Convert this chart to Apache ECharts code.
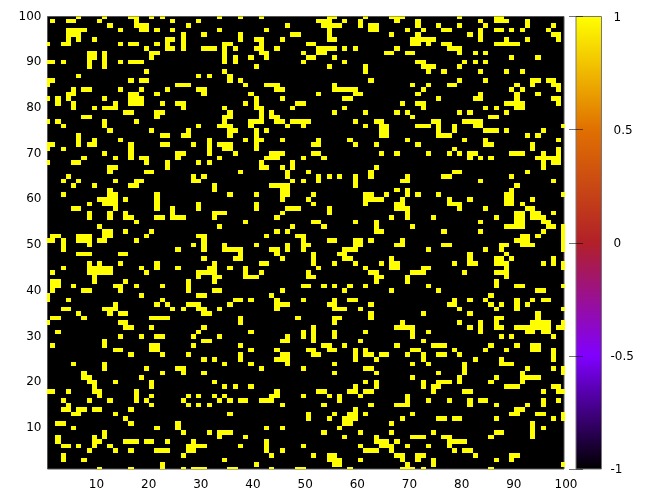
<!DOCTYPE html>
<html><head><meta charset="utf-8">
<style>html,body{margin:0;padding:0;background:#fff}#c{width:667px;height:500px}</style>
<script src="https://cdn.jsdelivr.net/npm/echarts@6/dist/echarts.min.js"></script>
</head><body><div id="c"></div>
<script>
// Each array lists, row by row from the highest y down, the x positions whose value is 1 (all others are -1).
const rows100to91 = [
[7,12,17,18,21,23,34,38,42,55,56,62,67,68,69,80,87,88],
[2,5,6,11,18,25,30,53,54,55,58,61,68,72,84,87,88,89,93],
[13,18,19,20,28,47,54,55,56,57,61,63,64,72,76,80,85,93,98],
[5,6,7,8,15,19,20,22,25,34,43,55,63,64,70,73,77,78,84,87,88,90,92,97],
[5,6,7,27,31,38,48,49,55,67,72,82,84,98,99],
[5,7,10,24,25,27,38,41,42,46,55,56,71,72,73,74,75,84,89,93,99],
[1,4,5,15,17,18,22,24,27,35,36,42,51,52,71,72,74,77,78,87,88,89,90,91],
[20,24,25,27,31,32,33,35,37,41,42,45,53,54,55,56,58,60,68,78,79,80],
[9,10,12,21,22,35,42,43,50,53,54,66,67,70,71,80,83,85],
[9,10,12,21,35,37,40,43,51,52,56,90,95]];
const rows90to81 = [
[1,2,4,9,12,15,17,18,19,35,37,50,58,72,73,81,83,85],
[9,12,41,55,62,73,74,75,80],
[20,35,62,74,77,84,89,92],
[7,30,32,36],
[1,2,17,19,20,36,38,63,80,85,94,95,97,98],
[1,26,27,28,39,43,44,45,56,71,74,78,79,91,94,98,99],
[6,8,9,15,19,24,30,31,45,46,56,57,58,59,60,73,90,92,99],
[5,6,17,18,22,31,40,53,60,61,72,84,91,95],
[1,3,5,12,17,18,19,41,46,58,59,76,83,84,91,98,99],
[3,6,14,17,18,19,23,26,27,39,41,49,50,69,72,73,89,90,91,92,99]];
const rows80to71 = [
[6,10,12,13,14,27,35,41,42,48,58,73,85,87,91,92],
[16,17,22,23,36,42,44,56,62,68,70,80,82,89],
[8,9,22,35,36,42,44,45,71,86,87],
[1,3,12,18,35,40,41,42,45,46,48,49,50,51,60,64,65,75,76,81,82,83,84],
[4,12,30,34,35,36,40,47,50,62,65,66,72,73,74,76,79,83,84,100],
[13,21,28,36,37,41,43,65,66,76,79,85,86,87,89,96],
[7,23,24,27,28,36,41,65,66,76,77,78,93,95],
[7,10,15,32,39,41,42,46,53,59,70,81,85,99],
[1,2,7,9,10,17,23,24,29,32,34,35,36,41,52,53,60,64,72,85,86,94],
[1,4,17,32,35,36,41,79,94,99]];
const rows70to61 = [
[12,17,26,27,32,37,44,45,46,52,53,65,68,74,78,80,82,83,90,91,92,96,99],
[8,14,17,19,20,26,34,43,44,45,50,54,82,84,86,95,96,97,98,99],
[1,6,7,20,24,30,32,42,48,96,98,99],
[13,14,24,42,43,46,48,64,96],
[13,20,21,38,47,51,63,79,80,93],
[5,29,31,47,53,55,57,60,63,70,77,78,90],
[4,7,14,18,19,29,30,48,50,53,60,69,70,84,98],
[6,10,17,18,33,44,45,46,47,60,91],
[13,33,46,47,68,70,90],
[4,13,14,22,36,41,46,47,52,62,63,66,70,72,76,89,90,100]];
const rows60to51 = [
[11,12,13,14,16,22,46,51,62,63,64,65,69,78,82,89,90,94],
[9,12,13,14,22,30,41,52,62,68,69,78,79,80,89,90,92],
[6,7,14,22,25,30,41,47,48,49,55,68,69,70,80,85,93,94],
[9,13,16,25,33,34,35,46,55,70,91,92,94,95,98],
[9,13,16,17,22,23,25,26,27,33,45,67,70,75,87,91,92,94,95,96],
[18,39,52,53,60,64,84,91,92,96,97],
[11,34,48,54,64,71,89,90,91,92,97,98,100],
[12,13,16,21,45,47,64,65,77,84,96,100],
[2,3,7,8,9,12,13,20,30,31,43,49,50,92,93,95,100],
[1,2,4,7,8,9,11,12,18,31,50,55,56,60,61,63,69,91,92,93,100]];
const rows50to41 = [
[4,9,29,31,35,41,47,50,51,60,61,68,69,77,78,88,89,92,93,94,100],
[4,26,31,35,36,37,38,44,45,47,50,58,59,60,74,85,88,100],
[7,8,9,15,16,38,45,52,57,58,82,89],
[31,37,38,46,52,58,59,67,82,87,88,90,98],
[9,11,15,22,33,42,43,52,56,60,65,67,68,79,82,83,87,88,89,96,98,100],
[4,9,10,11,12,13,19,22,26,32,33,36,39,53,62,67,68,73,74,89,100],
[2,9,10,11,12,13,20,30,31,32,33,39,42,51,63,64,71,72,73,81,87,88,89],
[10,30,33,34,39,40,41,51,52,64,65,70,89],
[2,3,10,16,28,33,64,70,87],
[2,3,6,14,15,18,23,28,50,51,54,56,59,62,74,87,91,92,100]];
const rows40to31 = [
[2,8,9,15,28,33,34,46,58,67,76,95,96],
[1,19,30,31,44,86],
[1,5,23,37,38,40,45,50,56,59,60,79,82,85,91,94,96,97],
[14,22,24,28,29,30,36,45,46,47,55,56,63,78,79,86,88,91,93],
[4,5,12,13,14,25,27,30,31,34,45,56,57,58,61,80,87,91,100],
[7,13,15,16,31,32,63,73,82,95],
[2,3,8,21,22,23,24,38,49,56,57,63,87,88,95],
[1,15,16,38,56,69,80,84,87,94,95,96,97,100],
[16,17,21,31,52,68,69,70,71,82,84,87,88,91,92,93,94,95,96,97,99,100],
[3,30,40,50,52,56,62,71,74,84,93,94,96,97]];
const rows30to21 = [
[15,19,22,23,29,34,47,50,52,56,71,88,90,98],
[12,31,32,46,47,52,61,73],
[2,12,21,22,29,38,54,55,58,68,75,76,77,86,91,94,95],
[14,15,21,22,40,45,51,52,55,56,60,62,71,72,79,85,89,94,95,98],
[17,23,28,38,46,47,52,53,60,62,63,65,66,70,73,76,77,80,98],
[31,33,38,45,46,47,60,64,73,83,88,98],
[6,12,35,40,47,56,71,74,81,88,89,90],
[12,20,26,27,42,50,62,63,81,93,98,100],
[8,23,27,31,56,64,76,81,92,100],
[8,9,19,71,80,87,92,93,94,95]];
const rows20to11 = [
[9,10,14,21,33,62,64,73,76,77,78,80,86,92],
[10,21,35,37,40,60,64,73,75,76,89,90,91,98,99],
[1,2,5,10,11,18,45,53,54,59,60,62,63,75,81,82,96,99,100],
[11,18,21,28,30,33,35,44,45,50,55,57,61,70],
[4,9,13,18,20,27,34,36,38,39,42,43,44,57,70,74,78,82,84,85,96,99],
[5,21,28,30,32,46,54,63,68,69,70,82,87,93,96],
[4,5,7,8,10,11,17,60,91,92],
[6,7,14,36,51,56,59,60,62,71,90,91,95,96,100],
[16,51,55,58,59,60,69,76,77,79,80,87,98,100],
[3,4,17,26,58,59,67,94]];
const rows10to1 = [
[6,22,26,43,46,57,94,96],
[12,27,32,34,35,36,54,61,67,75,87,88,94],
[3,10,12,34,39,58,64,71,72,73,77,78,86,94],
[3,10,11,16,17,18,20,21,24,29,43,64,65,66,68,78,79,80,81],
[4,5,7,10,13,28,29,30,31,38,43,50,61,65,66,67,70,74,78],
[9,14,17,22,23,24,28,29,43,46,62,63,64,67,79,81,82],
[4,27,44,52,55,56,68,69,72,73,83,90,91],
[4,8,35,55,56,57,61,69,72,75,87,90],
[23,41,56,57,70,75,100],
[11,17,23,27,29,30,31,36,37,44,49,50,59,69,70,71,73,86]];

const axisTicks = [10,20,30,40,50,60,70,80,90,100];
const colorbarTicks = [-1,-0.5,0,0.5,1];
const stopValues = [-1,-0.5,0,0.5,1];
const stopColors = ['#000000','#8000ff','#b22028','#e07000','#ffff00'];

const allRows=[...rows100to91,...rows90to81,...rows80to71,...rows70to61,...rows60to51,...rows50to41,...rows40to31,...rows30to21,...rows20to11,...rows10to1];
const cells=[];
allRows.forEach((cols,i)=>{const y=100-i;cols.forEach(x=>cells.push([x,y,1]));});

const font='"DejaVu Sans"';
const chart=echarts.init(document.getElementById('c'),null,{renderer:'canvas'});
chart.setOption({
  animation:false,
  backgroundColor:'#fff',
  grid:[
    {left:47.5,top:16.5,width:516.5,height:452.5,show:true,backgroundColor:'#000',borderColor:'#555',borderWidth:1},
    {left:576,top:16.5,width:25.5,height:452.5,show:true,backgroundColor:'transparent',borderColor:'#777',borderWidth:1,z:5}
  ],
  xAxis:[
    {type:'value',gridIndex:0,min:1,max:100,splitLine:{show:false},axisLine:{show:false},
     axisTick:{show:false},
     axisLabel:{customValues:axisTicks,color:'#000',fontFamily:font,fontSize:12,margin:10,padding:[0,0,0,4]}},
    {type:'value',gridIndex:1,min:0,max:1,show:false}
  ],
  yAxis:[
    {type:'value',gridIndex:0,min:1,max:100,splitLine:{show:false},axisLine:{show:false},
     axisTick:{show:false},
     axisLabel:{customValues:axisTicks,color:'#000',fontFamily:font,fontSize:12,margin:6,padding:[2,0,0,0]}},
    {type:'value',gridIndex:1,min:-1,max:1,position:'right',splitLine:{show:false},axisLine:{show:false},
     axisTick:{show:true,inside:true,length:7,customValues:colorbarTicks,lineStyle:{color:'rgba(0,0,0,0.55)'}},
     axisLabel:{customValues:colorbarTicks,color:'#000',fontFamily:font,fontSize:12,margin:9,padding:[2,0,0,0],
       formatter:v=>v<0?'{n|'+v+'}':'{p|'+v+'}',
       rich:{n:{fontFamily:font,fontSize:12,color:'#000'},p:{fontFamily:font,fontSize:12,color:'#000',padding:[0,0,0,3]}}},z:6},
    {type:'value',gridIndex:1,min:-1,max:1,position:'left',splitLine:{show:false},axisLine:{show:false},
     axisTick:{show:true,inside:true,length:7,customValues:colorbarTicks,lineStyle:{color:'rgba(0,0,0,0.55)'}},
     axisLabel:{show:false},z:6}
  ],
  series:[
    {type:'custom',xAxisIndex:0,yAxisIndex:0,clip:true,data:cells,encode:{x:0,y:1},
     renderItem:(p,api)=>{
       const x=api.value(0),y=api.value(1);
       const a=api.coord([x-0.5,y+0.5]),b=api.coord([x+0.5,y-0.5]);
       const l=Math.round(a[0]),t=Math.round(a[1]),r=Math.round(b[0]),d=Math.round(b[1]);
       return {type:'rect',shape:{x:l,y:t,width:r-l,height:d-t},style:{fill:stopColors[4]}};
     }},
    {type:'custom',xAxisIndex:1,yAxisIndex:1,clip:true,data:[[0,1,1,-1]],encode:{x:[0,1],y:[2,3]},z:1,
     renderItem:(p,api)=>{
       const a=api.coord([api.value(0),api.value(2)]),b=api.coord([api.value(1),api.value(3)]);
       const span=stopValues[4]-stopValues[0];
       const grad=new echarts.graphic.LinearGradient(0,0,0,1,
         stopValues.map((v,i)=>({offset:(stopValues[4]-v)/span,color:stopColors[i]})).reverse().sort((m,n)=>m.offset-n.offset));
       return {type:'rect',shape:{x:a[0],y:a[1],width:b[0]-a[0],height:b[1]-a[1]},style:{fill:grad}};
     }}
  ]
});
</script></body></html>
